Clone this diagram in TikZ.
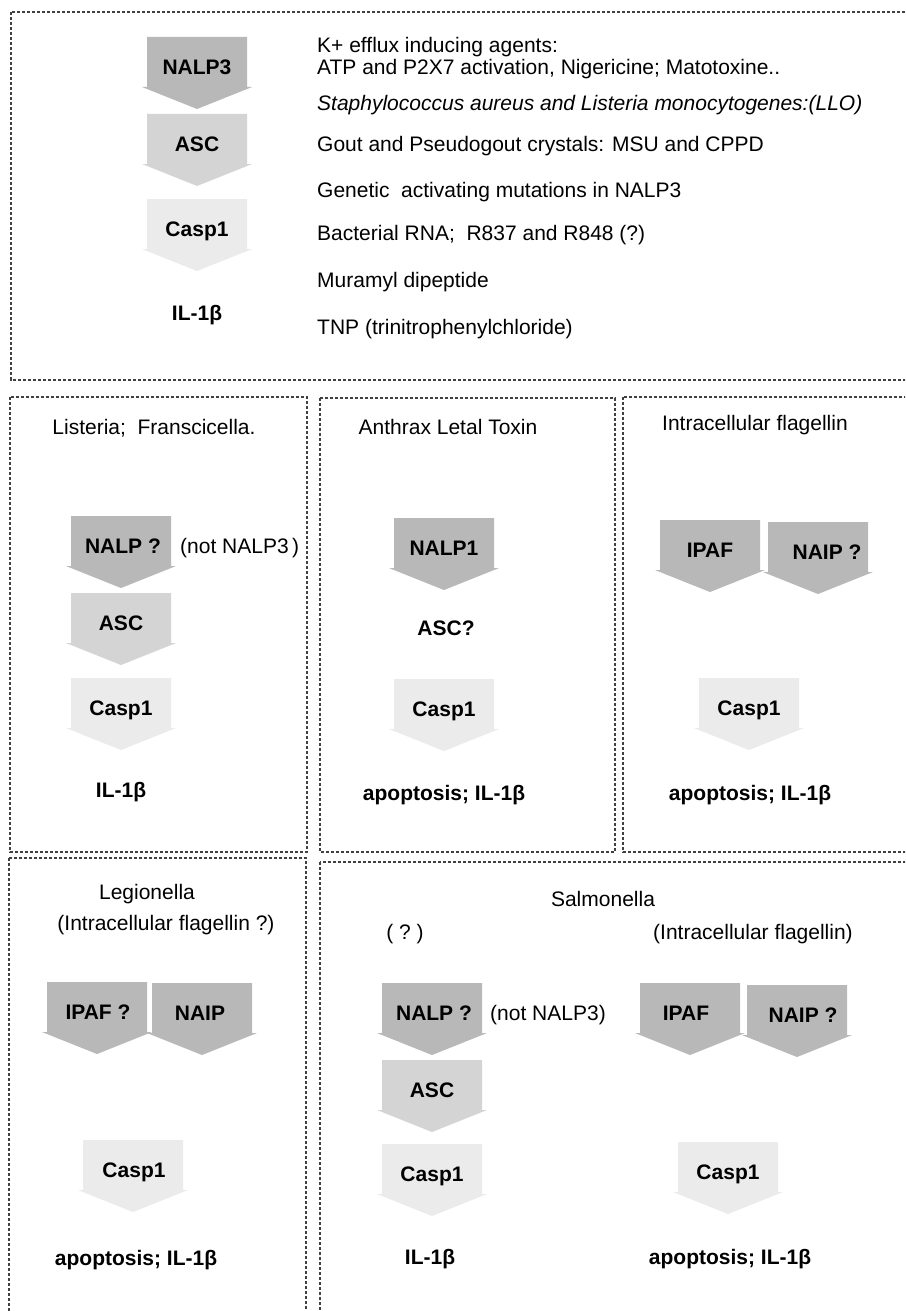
\documentclass[tikz,border=0pt]{standalone}
\usepackage{fontspec}
\setmainfont{Liberation Sans}
\definecolor{cdark}{HTML}{B8B8B8}
\definecolor{cmid}{HTML}{D4D4D4}
\definecolor{clight}{HTML}{EBEBEB}
\definecolor{cborder}{HTML}{404040}
\newcommand\chev[6]{%
  \fill[#4] (#2-50,#3) -- (#2+50,#3) -- (#2+50,#3+50) -- (#2+55,#3+50) -- (#2,#3+72) -- (#2-55,#3+50) -- (#2-50,#3+50) -- cycle;
  \node[lab] (#1) at (#2+#6,#3+37.5) {#5};
}
\begin{document}
\begin{tikzpicture}[x=1pt,y=-1pt,
  every node/.style={inner sep=0pt,font=\fontsize{21}{25}\selectfont},
  lab/.style={anchor=base,font=\fontsize{21}{25}\selectfont\bfseries},
  txt/.style={anchor=base},
  ltxt/.style={anchor=base west},
  panel/.style={draw=cborder,line width=1.2pt,dash pattern=on 3.3pt off 1.7pt}]
\clip (0,0) rectangle (905,1311);
\fill[white] (0,0) rectangle (905,1311);
% panels
\draw[panel] (11,12) rectangle (915,380);
\draw[panel] (10,397) rectangle (307,852);
\draw[panel] (320,398) rectangle (615,852);
\draw[panel] (623,397) rectangle (915,852);
\draw[panel] (9,858) rectangle (306,1320);
\draw[panel] (320,862) rectangle (915,1320);
% top panel
\chev{tNALP}{197}{37}{cdark}{NALP3}{0}
\chev{tASC}{197}{114}{cmid}{ASC}{0}
\chev{tCASP}{197}{199}{clight}{Casp1}{0}
\node[lab] (tIL) at (197,320) {IL-1β};
\node[ltxt] (t1) at (317,52.5) {K+ efflux inducing agents:};
\node[ltxt] (t2) at (317,74.5) {ATP and P2X7 activation, Nigericine; Matotoxine..};
\node[ltxt] (t3) at (317,110.5) {\itshape Staphylococcus aureus and Listeria monocytogenes:(LLO)};
\node[ltxt] (t4) at (317,151.5) {Gout and Pseudogout crystals: MSU and CPPD};
\node[ltxt] (t5) at (317,197.5) {Genetic\ \ activating mutations in NALP3};
\node[ltxt] (t6) at (317,240.5) {Bacterial RNA;\ \ R837 and R848 (?)};
\node[ltxt] (t7) at (317,287.5) {Muramyl dipeptide};
\node[ltxt] (t8) at (317,334.5) {TNP (trinitrophenylchloride)};
% Listeria panel
\node[txt] (lH) at (154,434.5) {Listeria;\ \ Franscicella.};
\chev{lNALP}{121}{516}{cdark}{NALP ?}{2}
\node[ltxt] (lNot) at (180,553.5) {(not NALP3\,)};
\chev{lASC}{121}{593}{cmid}{ASC}{0}
\chev{lCASP}{121}{678}{clight}{Casp1}{0}
\node[lab] (lIL) at (121,797.5) {IL-1β};
% Anthrax panel
\node[txt] (aH) at (448,434.5) {Anthrax Letal Toxin};
\chev{aNALP}{444}{518}{cdark}{NALP1}{0}
\node[lab] (aASC) at (446,635.5) {ASC?};
\chev{aCASP}{444}{679}{clight}{Casp1}{0}
\node[lab] (aOut) at (444,800) {apoptosis; IL-1β};
% Intracellular flagellin panel
\node[txt] (fH) at (755,430.5) {Intracellular flagellin};
\chev{fIPAF}{710}{520}{cdark}{IPAF}{0}
\chev{fNAIP}{818}{522}{cdark}{NAIP ?}{9}
\chev{fCASP}{749}{678}{clight}{Casp1}{0}
\node[lab] (fOut) at (750,800) {apoptosis; IL-1β};
% Legionella panel
\node[txt] (gH1) at (147,899.5) {Legionella};
\node[txt] (gH2) at (166,930.5) {(Intracellular flagellin ?)};
\chev{gIPAF}{97}{982}{cdark}{IPAF ?}{1}
\chev{gNAIP}{202}{983}{cdark}{NAIP}{-2}
\chev{gCASP}{133}{1140}{clight}{Casp1}{1}
\node[lab] (gOut) at (136,1265) {apoptosis; IL-1β};
% Salmonella panel
\node[txt] (sH) at (603,906.5) {Salmonella};
\node[txt] (sQ) at (405,939.5) {(\ ?\ )};
\node[txt] (sF) at (753,939.5) {(Intracellular flagellin)};
\chev{sNALP}{432}{983}{cdark}{NALP ?}{2}
\node[txt] (sNot) at (548,1020.5) {(not NALP3)};
\chev{sASC}{432}{1060}{cmid}{ASC}{0}
\chev{sCASP}{432}{1144}{clight}{Casp1}{0}
\node[lab] (sIL) at (430,1264) {IL-1β};
\chev{sIPAF}{690}{983}{cdark}{IPAF}{-4}
\chev{sNAIP}{797}{985}{cdark}{NAIP ?}{6}
\chev{sCASP2}{728}{1142}{clight}{Casp1}{0}
\node[lab] (sOut) at (730,1264) {apoptosis; IL-1β};
\end{tikzpicture}
\end{document}
